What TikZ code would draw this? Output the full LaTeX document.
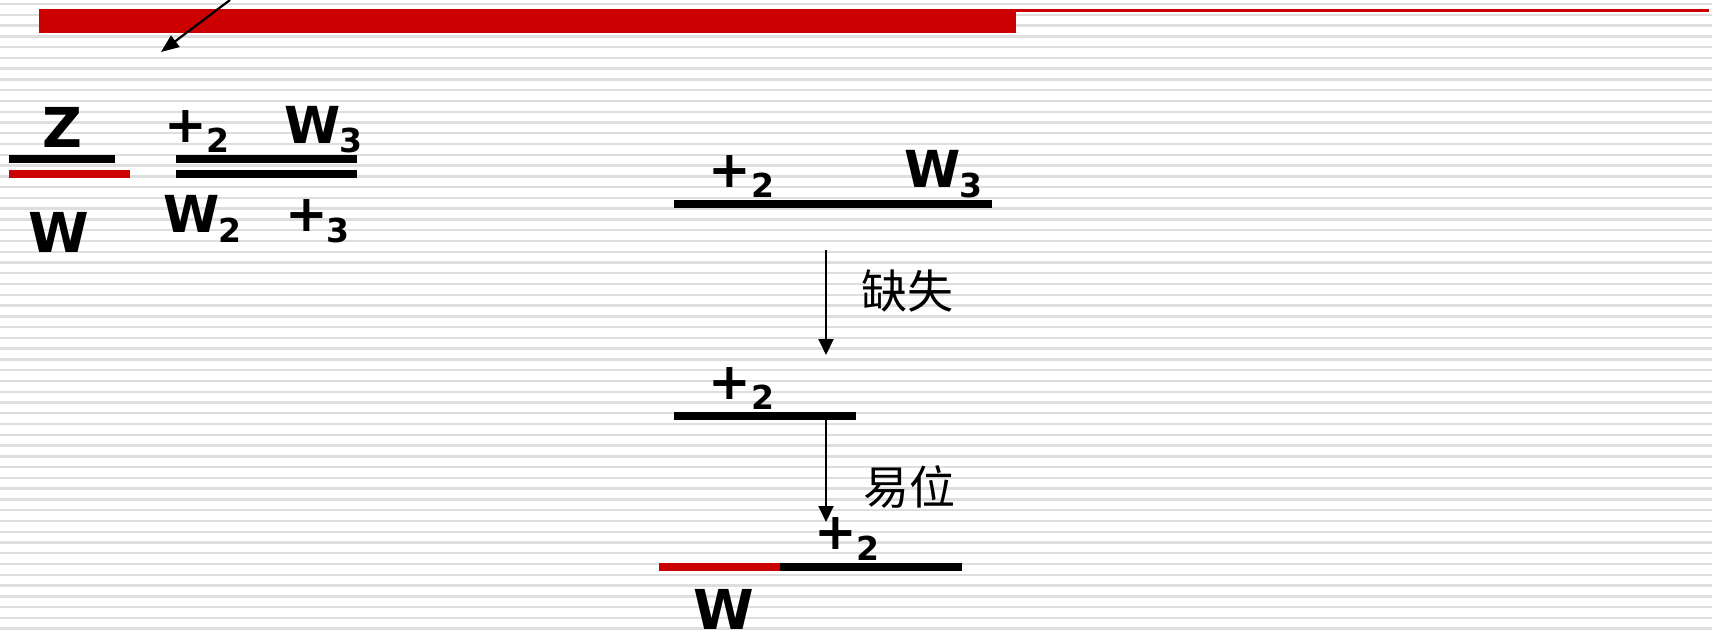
\documentclass[tikz,border=0pt]{standalone}
\usepackage{fontspec}
\usetikzlibrary{arrows.meta}
\newfontfamily\dvs{DejaVu Sans}
\newfontfamily\cjk{Noto Sans CJK SC}
\definecolor{barred}{RGB}{204,0,0}
\definecolor{stripe}{RGB}{222,222,222}
\tikzset{
  big/.style={inner sep=0pt, font=\dvs\bfseries\fontsize{55}{60}\selectfont},
  mid/.style={inner sep=0pt, font=\dvs\bfseries\fontsize{51}{56}\selectfont},
  sub/.style={inner sep=0pt, font=\dvs\bfseries\fontsize{33}{36}\selectfont},
  zh/.style={inner sep=0pt, font=\cjk\fontsize{46}{50}\selectfont},
  arr/.style={-{Triangle[length=16pt,width=15pt]}, line width=2pt},
}
\begin{document}
\begin{tikzpicture}[x=1pt,y=-1pt]
\useasboundingbox (0,0) rectangle (1712,632);
\fill[white] (0,0) rectangle (1712,632);
\foreach \i in {0,...,58} {
  \fill[stripe] (0,{4+\i*10.77-1.2}) rectangle (1712,{4+\i*10.77+1.2});
}
% header bar
\fill[barred] (39,9) rectangle (1016,33);
\fill[barred] (1016,9) rectangle (1709,11.5);
\coordinate (a0) at (230,0);
\coordinate (a1) at (161,52);
\draw[-{Triangle[length=18pt,width=14pt]}, line width=2.2pt] (a0) -- (a1);

% left diagram
\fill[black] (9,155) rectangle (115,163);
\fill[barred] (9,170) rectangle (130,178);
\fill[black] (176,155) rectangle (357,163);
\fill[black] (176,170) rectangle (357,178);
\node[big, anchor=base] (Z) at (62,147) {Z};
\node[big, anchor=base] (Wl) at (58.5,252) {W};
\node[mid, anchor=north] (p1) at (185.5,110) {+};
\node[sub, anchor=base] (p1s) at (218,152) {2};
\node[mid, anchor=base] (w1) at (312.5,143) {W};
\node[sub, anchor=base] (w1s) at (351,152) {3};
\node[mid, anchor=base] (w2) at (192,232) {W};
\node[sub, anchor=base] (w2s) at (230,242) {2};
\node[mid, anchor=north] (p2) at (306.5,199) {+};
\node[sub, anchor=base] (p2s) at (338,242) {3};

% right diagram
\fill[black] (674,200) rectangle (992,208);
\node[mid, anchor=north] (rp1) at (730,155) {+};
\node[sub, anchor=base] (rp1s) at (762.5,197) {2};
\node[mid, anchor=base] (rw1) at (933,187) {W};
\node[sub, anchor=base] (rw1s) at (971,197) {3};

\coordinate (c1a) at (826,250);
\coordinate (c1b) at (826,355);
\draw[arr] (c1a) -- (c1b);
\node[zh] (que) at (907.5,290.5) {缺失};

\fill[black] (674,412) rectangle (856,420);
\node[mid, anchor=north] (rp2) at (730,367) {+};
\node[sub, anchor=base] (rp2s) at (762.5,409) {2};

\coordinate (c2a) at (826,420);
\coordinate (c2b) at (826,522);
\draw[arr] (c2a) -- (c2b);
\node[zh] (yi) at (909.5,486.5) {易位};

\node[mid, anchor=north] (rp3) at (836,517) {+};
\node[sub, anchor=base] (rp3s) at (867.5,560) {2};
\fill[barred] (659,563) rectangle (780,571);
\fill[black] (780,563) rectangle (962,571);
\node[big, anchor=base] (Wr) at (724,629) {W};
\end{tikzpicture}
\end{document}
